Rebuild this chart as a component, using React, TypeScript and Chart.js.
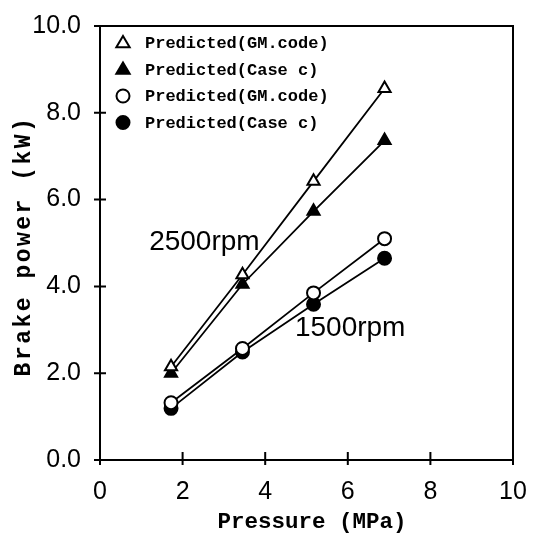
import React, { useEffect, useRef } from "react";
import { Chart, registerables } from "chart.js";

Chart.register(...registerables);

// Data
const PRESSURE = [1.72, 3.45, 5.17, 6.89];
const GM_2500 = [2.15, 4.27, 6.42, 8.56];
const CASEC_2500 = [2.0, 4.05, 5.73, 7.36];
const GM_1500 = [1.32, 2.57, 3.85, 5.1];
const CASEC_1500 = [1.19, 2.49, 3.59, 4.65];

const SERIES_LABELS = [
  "Predicted(GM.code)",
  "Predicted(Case c)",
  "Predicted(GM.code)",
  "Predicted(Case c)",
];

const X_TICKS = [0, 2, 4, 6, 8, 10];
const Y_TICKS = [0, 2, 4, 6, 8, 10];

const ANNOT_TEXT = ["2500rpm", "1500rpm"];
const ANNOT_X = [1.19, 4.72];
const ANNOT_Y = [5.02, 3.03];

const X_TITLE = "Pressure (MPa)";
const Y_TITLE = "Brake power (kW)";

const TITLE_FONT = "bold 22.5px 'Liberation Mono'";
const LEGEND_FONT = "bold 17px 'Liberation Mono'";
const TICK_FONT_FAMILY = "'Liberation Sans'";

type Marker = { style: string; filled: boolean; r: number };
const MARKERS: Marker[] = [
  { style: "triangle", filled: false, r: 7 },
  { style: "triangle", filled: true, r: 7 },
  { style: "circle", filled: false, r: 6.5 },
  { style: "circle", filled: true, r: 6.5 },
];

function drawMarker(ctx: CanvasRenderingContext2D, m: Marker, cx: number, cy: number) {
  ctx.save();
  ctx.beginPath();
  if (m.style === "circle") {
    ctx.arc(cx, cy, m.r, 0, Math.PI * 2);
  } else {
    const r = m.r;
    ctx.moveTo(cx, cy - r);
    ctx.lineTo(cx + r * 0.95, cy + r * 0.6);
    ctx.lineTo(cx - r * 0.95, cy + r * 0.6);
    ctx.closePath();
  }
  ctx.fillStyle = m.filled ? "#000" : "#fff";
  ctx.fill();
  ctx.lineWidth = 2;
  ctx.strokeStyle = "#000";
  ctx.stroke();
  ctx.restore();
}

const decorPlugin = {
  id: "decor",
  afterDraw(chart: any) {
    const { ctx, chartArea: a, scales } = chart;
    const x = scales.x;
    const y = scales.y;
    ctx.save();
    ctx.strokeStyle = "#000";
    ctx.lineWidth = 2;
    ctx.strokeRect(a.left, a.top, a.right - a.left, a.bottom - a.top);
    ctx.beginPath();
    for (const v of X_TICKS) {
      const px = x.getPixelForValue(v);
      ctx.moveTo(px, a.bottom - (v === 0 || v === 10 ? 0 : 8));
      ctx.lineTo(px, a.bottom + 5);
    }
    for (const v of Y_TICKS) {
      const py = y.getPixelForValue(v);
      ctx.moveTo(a.left - 6, py);
      ctx.lineTo(a.left + 6, py);
    }
    ctx.stroke();

    // annotations
    ctx.fillStyle = "#000";
    ctx.font = `28px ${TICK_FONT_FAMILY}`;
    ctx.textBaseline = "middle";
    ctx.textAlign = "left";
    ANNOT_TEXT.forEach((t, i) => {
      ctx.fillText(t, x.getPixelForValue(ANNOT_X[i]), y.getPixelForValue(ANNOT_Y[i]));
    });

    // legend
    ctx.font = LEGEND_FONT;
    SERIES_LABELS.forEach((lab, i) => {
      const ly = a.top + 17 + i * 26.5;
      drawMarker(ctx, MARKERS[i], a.left + 23, ly);
      ctx.fillStyle = "#000";
      ctx.fillText(lab, a.left + 45, ly + 1);
    });

    // titles
    ctx.font = TITLE_FONT;
    ctx.textAlign = "center";
    ctx.fillText(X_TITLE, 312, 522);
    ctx.save();
    ctx.translate(24, 246);
    ctx.rotate(-Math.PI / 2);
    ctx.font = "bold 23px 'Liberation Mono'";
    (ctx as any).letterSpacing = "2.5px";
    ctx.fillText(Y_TITLE, 0, 0);
    ctx.restore();
    ctx.restore();
  },
};

export default function App() {
  const ref = useRef<HTMLCanvasElement | null>(null);
  useEffect(() => {
    document.body.style.margin = "0";
    const canvas = ref.current!;
    const mk = (vals: number[]) => PRESSURE.map((p, i) => ({ x: p, y: vals[i] }));
    const all = [GM_2500, CASEC_2500, GM_1500, CASEC_1500];
    const chart = new Chart(canvas, {
      type: "line",
      data: {
        datasets: all.map((vals, i) => ({
          label: SERIES_LABELS[i],
          data: mk(vals),
          borderColor: "#000",
          borderWidth: 1.8,
          backgroundColor: MARKERS[i].filled ? "#000" : "#fff",
          pointBackgroundColor: MARKERS[i].filled ? "#000" : "#fff",
          pointBorderColor: "#000",
          pointBorderWidth: 2,
          pointStyle: MARKERS[i].style as any,
          pointRadius: MARKERS[i].r,
          tension: 0,
          fill: false,
        })),
      },
      options: {
        responsive: false,
        animation: false,
        layout: { padding: { top: 18, right: 23, left: 0, bottom: 0 } },
        plugins: { legend: { display: false }, tooltip: { enabled: false } },
        scales: {
          x: {
            type: "linear",
            min: 0,
            max: 10,
            grid: { display: false },
            border: { display: false },
            ticks: {
              stepSize: 2,
              color: "#000",
              font: { family: TICK_FONT_FAMILY, size: 25 },
              padding: 9,
              maxRotation: 0,
              callback: (v: any) => String(v),
            },
            afterFit: (s: any) => {
              s.height = 74;
            },
          },
          y: {
            type: "linear",
            min: 0,
            max: 10,
            grid: { display: false },
            border: { display: false },
            ticks: {
              stepSize: 2,
              color: "#000",
              font: { family: TICK_FONT_FAMILY, size: 25 },
              padding: 11,
              callback: (v: any) => Number(v).toFixed(1),
            },
            afterFit: (s: any) => {
              s.width = 100;
            },
          },
        },
      },
      plugins: [decorPlugin],
    });
    return () => chart.destroy();
  }, []);
  return <canvas ref={ref} width={536} height={534} style={{ display: "block" }} />;
}
